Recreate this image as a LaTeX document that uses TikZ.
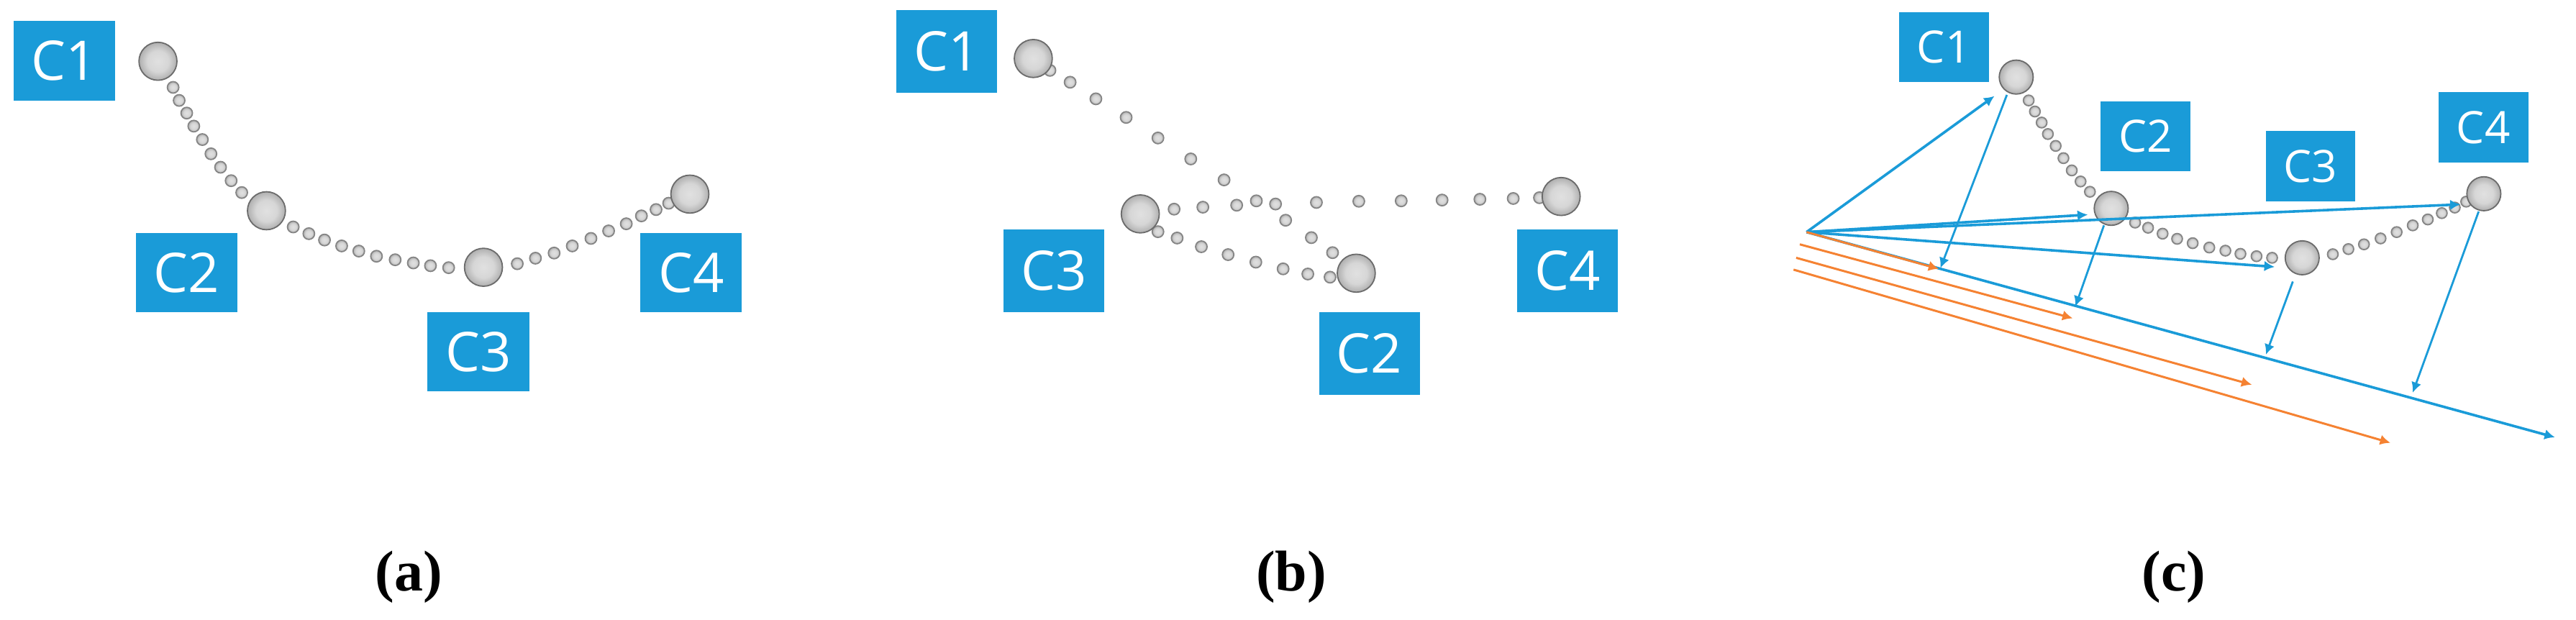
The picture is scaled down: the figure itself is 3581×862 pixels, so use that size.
\documentclass[tikz,border=0pt]{standalone}
\usepackage{fontspec}
\setmainfont{Liberation Serif}
\newfontfamily\lblfont{Open Sans}
\usetikzlibrary{arrows.meta}
\definecolor{lblue}{HTML}{1A9BD8}
\definecolor{lorange}{HTML}{F58232}
\pgfdeclareradialshading{beadshade}{\pgfpoint{0bp}{0bp}}{color(0bp)=(black!12); color(14bp)=(black!16); color(24bp)=(black!30); color(34bp)=(black!48); color(50bp)=(black!70)}
\tikzset{
  ball/.style={circle,inner sep=0pt,minimum size=#1,shading=beadshade,draw=black!58,line width=0.45pt},
  ball/.default=13.2pt,
  bead/.style={circle,inner sep=0pt,minimum size=4pt,shading=beadshade,draw=black!48,line width=0.45pt},
  lbl/.style={fill=lblue,text=white,inner sep=0pt,font=\lblfont\fontsize{19}{19}\selectfont},
  lbla/.style={lbl,minimum width=35.3pt,minimum height=27.6pt},
  lblb/.style={lbl,minimum width=35pt,minimum height=28.8pt},
  lblc/.style={lbl,minimum width=31.2pt,minimum height=24.4pt,font=\lblfont\fontsize{15.5}{15.5}\selectfont},
  captext/.style={inner sep=0pt,font=\bfseries\fontsize{20}{20}\selectfont},
  bluearr/.style={draw=lblue,line width=0.9pt,-{Latex[length=3.6pt,width=3.6pt]}},
  bluethin/.style={draw=lblue,line width=0.7pt,-{Latex[length=3.6pt,width=3.6pt]}},
  orgarr/.style={draw=lorange,line width=0.75pt,-{Latex[length=3.6pt,width=3.6pt]}},
}
\begin{document}
\begin{tikzpicture}[x=0.25pt,y=-0.25pt]
\useasboundingbox (0,0) rectangle (3581,862);
% ---------- panel (a)
\begin{scope}[x=0.17538pt,y=-0.13744pt]
\foreach \x/\y [count=\i] in {343/221,355/254,370/286,384/319,401/353,418/389,437/423,458/457,479/487,
  581/574,612/591,643/607,677/622,711/635,746/648,783/657,819/665,853/672,889/677,
  1025/667,1061/653,1098/640,1134/622,1171/603,1206/584,1241/566,1271/546,1300/530,1325/514}
  \node[bead] (ad\i) at (\x,\y) {};
\node[ball] (ab1) at (313,155) {};
\node[ball] (ab2) at (528,533) {};
\node[ball] (ab3) at (958,676) {};
\node[ball] (ab4) at (1367,491) {};
\node[lbla] (al1) at (127.5,154) {C1};
\node[lbla] (al2) at (369.5,689.5) {C2};
\node[lbla] (al3) at (948,890) {C3};
\node[lbla] (al4) at (1369.5,689.5) {C4};
\node[captext] (acap) at (810,1460) {(a)};
\end{scope}
% ---------- panel (b)
\begin{scope}[shift={(300pt,0pt)},x=0.17538pt,y=-0.13744pt]
\foreach \x/\y [count=\i] in {370/178,410/208,461/250,521/297,584/349,649/402,715/455,779/508,817/516,837/557,888/601,930/639,
  616/529,673/524,740/519,898/512,982/509,1066/508,1147/506,1222/504,1288/502,1340/500,
  584/586,622/602,670/624,723/644,778/663,832/680,881/693,925/701}
  \node[bead] (bd\i) at (\x,\y) {};
\node[ball] (bb1) at (337,148) {};
\node[ball] (bb3) at (549,541) {};
\node[ball] (bb2) at (977,691) {};
\node[ball] (bb4) at (1383,497) {};
\node[lblb] (bl1) at (165,130) {C1};
\node[lblb] (bl3) at (378,685) {C3};
\node[lblb] (bl2) at (1003,894) {C2};
\node[lblb] (bl4) at (1396,685) {C4};
\node[captext] (bcap) at (848,1460) {(b)};
\end{scope}
% ---------- panel (c)
\begin{scope}[shift={(612.5pt,0pt)},x=0.18037pt,y=-0.13744pt]
\foreach \x/\y [count=\i] in {513/254,525/282,538/310,550/339,565/369,580/400,596/431,613/459,631/485,
  718/563,743/576,771/591,799/604,829/615,861/626,892/634,921/642,952/648,982/652,
  1099/643,1129/630,1159/618,1191/603,1222/587,1253/570,1282/555,1309/539,1334/525,1356/510}
  \node[bead,minimum size=3.7pt] (cd\i) at (\x,\y) {};
\node[ball=11.8pt] (cb1) at (489,195) {};
\node[ball=11.8pt] (cb2) at (672,527) {};
\node[ball=11.8pt] (cb3) at (1040,652) {};
\node[ball=11.8pt] (cb4) at (1390,490) {};
\node[lblc] (cl1) at (349.5,119) {C1};
\node[lblc] (cl2) at (738,344.5) {C2};
\node[lblc] (cl3) at (1056,420) {C3};
\node[lblc] (cl4) at (1389,322) {C4};
\node[captext] (ccap) at (793,1460) {(c)};
% free ends
\coordinate (O) at (85,587);
\coordinate (t1) at (447,243);
\coordinate (t2) at (627,543);
\coordinate (t3) at (987,675);
\coordinate (t4) at (1345,517);
\coordinate (axis) at (1527,1106);
\coordinate (s1) at (471,240);
\coordinate (e1) at (343,678);
\coordinate (s2) at (658,570);
\coordinate (e2) at (603,775);
\coordinate (s3) at (1022,712);
\coordinate (e3) at (970,897);
\coordinate (s4) at (1380,535);
\coordinate (e4) at (1253,993);
\coordinate (o1) at (340,680);
\coordinate (p2) at (72,618);
\coordinate (o2) at (598,805);
\coordinate (p3) at (65,652);
\coordinate (o3) at (943,973);
\coordinate (p4) at (60,682);
\coordinate (o4) at (1210,1120);
\draw[bluearr] (O) -- (t1);
\draw[bluearr] (O) -- (t2);
\draw[bluearr] (O) -- (t3);
\draw[bluearr] (O) -- (t4);
\draw[bluearr] (O) -- (axis);
\draw[bluethin] (s1) -- (e1);
\draw[bluethin] (s2) -- (e2);
\draw[bluethin] (s3) -- (e3);
\draw[bluethin] (s4) -- (e4);
\draw[orgarr] (O) -- (o1);
\draw[orgarr] (p2) -- (o2);
\draw[orgarr] (p3) -- (o3);
\draw[orgarr] (p4) -- (o4);
\end{scope}
\end{tikzpicture}
\end{document}
